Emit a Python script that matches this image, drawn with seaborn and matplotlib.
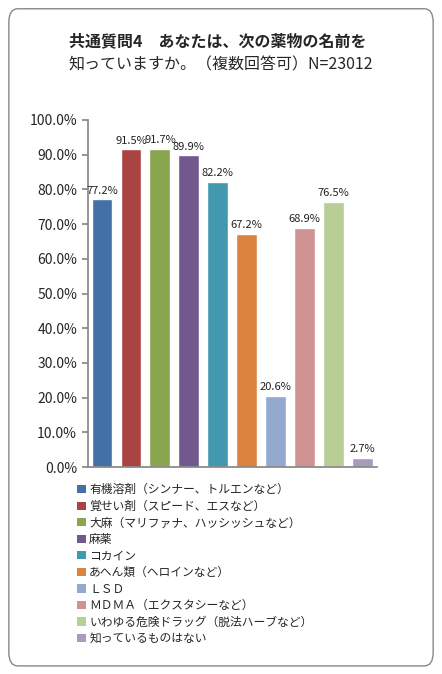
import matplotlib
matplotlib.use("Agg")
import matplotlib.pyplot as plt
import seaborn as sns
import pandas as pd
from matplotlib.patches import FancyBboxPatch, Patch

sns.set_theme(style="white")
plt.rcParams['font.family'] = ['Noto Sans CJK JP', 'DejaVu Sans']

categories = ["有機溶剤（シンナー、トルエンなど）", "覚せい剤（スピード、エスなど）",
              "大麻（マリファナ、ハッシッシュなど）", "麻薬", "コカイン",
              "あへん類（ヘロインなど）", "ＬＳＤ", "ＭＤＭＡ（エクスタシーなど）",
              "いわゆる危険ドラッグ（脱法ハーブなど）", "知っているものはない"]
values = [77.2, 91.5, 91.7, 89.9, 82.2, 67.2, 20.6, 68.9, 76.5, 2.7]
colors = ["#4470a8", "#aa4442", "#89a54e", "#71588f", "#4198af",
          "#db843d", "#93a9cf", "#d19392", "#b9cd96", "#a99bbd"]
yticks = [0, 10, 20, 30, 40, 50, 60, 70, 80, 90, 100]

df = pd.DataFrame({"cat": categories, "val": values})

fig = plt.figure(figsize=(4.42, 6.74), dpi=100)
fig.patches.append(FancyBboxPatch((0.02, 0.012), 0.96, 0.975, boxstyle="round,pad=0,rounding_size=0.02",
                                  transform=fig.transFigure, fill=False, edgecolor="#888888", lw=1))
ax = fig.add_axes([0.198, 0.307, 0.655, 0.515])
sns.barplot(data=df, x="cat", y="val", hue="cat", palette=colors, width=0.72,
            legend=False, ax=ax, saturation=1)
for i, v in enumerate(values):
    ax.text(i, v + 1.0, f"{v:.1f}%", ha="center", va="bottom", fontsize=8, color="#222222")
ax.set_ylim(0, 100)
ax.set_xlim(-0.5, len(values) - 0.5)
ax.set_yticks(yticks)
ax.set_yticklabels([f"{t:.1f}%" for t in yticks], fontsize=10)
ax.set_xticks([])
ax.set_xlabel("")
ax.set_ylabel("")
for s in ["top", "right"]:
    ax.spines[s].set_visible(False)
for s in ["left", "bottom"]:
    ax.spines[s].set_color("#888888")
ax.tick_params(axis="y", length=4, color="#888888", left=True)

fig.text(0.155, 0.932, "共通質問4　あなたは、次の薬物の名前を", fontsize=11.5, fontweight="bold", ha="left")
fig.text(0.155, 0.897, "知っていますか。（複数回答可）N=23012", fontsize=11.5, ha="left")

handles = [Patch(facecolor=c, edgecolor="none") for c in colors]
fig.legend(handles, categories, loc="upper left", bbox_to_anchor=(0.175, 0.283), frameon=False,
           fontsize=8.5, handlelength=0.7, handleheight=0.7, handletextpad=0.3, labelspacing=0.3,
           borderaxespad=0, borderpad=0)

fig.savefig("out.png", dpi=100)
